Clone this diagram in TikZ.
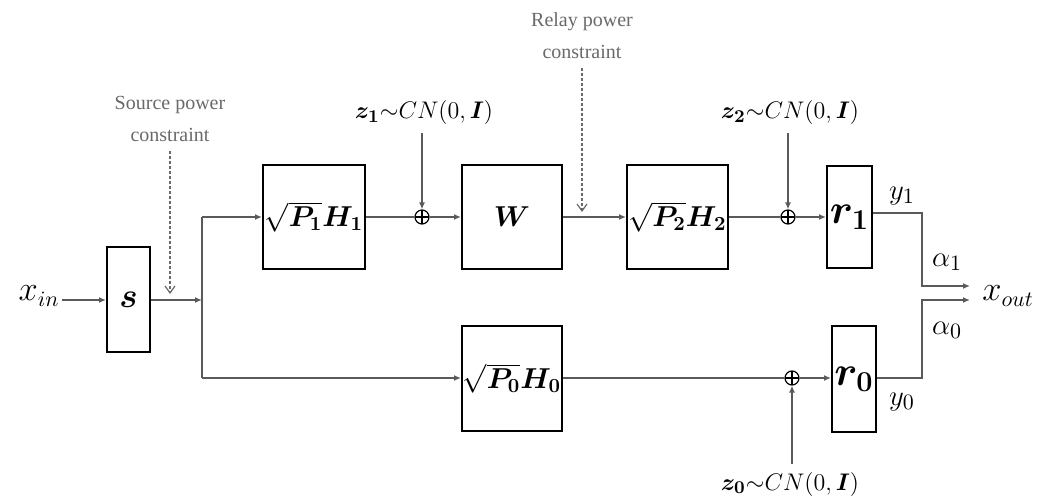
\documentclass[tikz,border=0pt]{standalone}
\usepackage{amsmath,bm}
\usepackage{fontspec}
\newfontfamily\lblfont{Liberation Serif}
\usetikzlibrary{arrows.meta}
\definecolor{txtgray}{RGB}{105,105,105}
\definecolor{linegray}{RGB}{90,90,90}
\tikzset{
  blk/.style={draw=black, line width=1pt, inner sep=0pt},
  arr/.style={draw=linegray, line width=0.7pt, -{Latex[length=3.5pt,width=3pt]}},
  ln/.style={draw=linegray, line width=0.7pt},
  dasharr/.style={draw=txtgray, line width=0.6pt, dash pattern=on 1.5pt off 1pt, -{Straight Barb[length=3.5pt,width=5pt]}},
  plus/.style={circle, draw=black, line width=0.6pt, inner sep=0pt, minimum size=7pt,
    path picture={\draw[line width=0.6pt] (path picture bounding box.north) -- (path picture bounding box.south)
      (path picture bounding box.west) -- (path picture bounding box.east);}},
  mlbl/.style={font=\fontsize{13}{15}\selectfont, inner sep=1pt},
  olbl/.style={font=\fontsize{15}{17}\selectfont, inner sep=1pt},
  glbl/.style={font=\lblfont\fontsize{10}{16}\selectfont, text=txtgray, align=center},
}
\begin{document}
\begin{tikzpicture}[x=0.5pt,y=-0.5pt]
\useasboundingbox (0,0) rectangle (1050,502);
% blocks
\node[blk, minimum width=21.5pt, minimum height=52.5pt] (S) at (128.5,300) {\fontsize{18}{20}\selectfont$\bm{s}$};
\node[blk, minimum width=51pt, minimum height=52pt] (H1) at (314,217) {\fontsize{14}{16}\selectfont$\sqrt{\bm{P_1}}\bm{H_1}$};
\node[blk, minimum width=50pt, minimum height=52pt] (W) at (512,217) {\fontsize{15}{17}\selectfont$\bm{W}$};
\node[blk, minimum width=50.5pt, minimum height=52pt] (H2) at (677.5,217) {\fontsize{14}{16}\selectfont$\sqrt{\bm{P_2}}\bm{H_2}$};
\node[blk, minimum width=22.5pt, minimum height=51pt] (r1) at (849.5,217) {\fontsize{22}{24}\selectfont$\bm{r_1}$};
\node[blk, minimum width=50pt, minimum height=52.5pt] (H0) at (512,378.5) {\fontsize{14}{16}\selectfont$\sqrt{\bm{P_0}}\bm{H_0}$};
\node[blk, minimum width=22pt, minimum height=53pt] (r0) at (854,379) {\fontsize{22}{24}\selectfont$\bm{r_0}$};
% adders
\node[plus] (p1) at (422,217) {};
\node[plus] (p2) at (788,217) {};
\node[plus] (p0) at (792,378) {};
% labels
\node[olbl, anchor=east] (xin) at (62,296) {\fontsize{16}{18}\selectfont$x_{in}$};
\node[mlbl] (z1) at (424,113) {$\bm{z_1}{\sim}CN(0,\bm{I})$};
\node[mlbl] (z2) at (790,113) {$\bm{z_2}{\sim}CN(0,\bm{I})$};
\node[mlbl] (z0) at (790,484) {$\bm{z_0}{\sim}CN(0,\bm{I})$};
\node[glbl] (src) at (170,119) {Source power\\constraint};
\node[glbl] (rly) at (582,36) {Relay power\\constraint};
\node[olbl] (y1) at (902,196) {$y_1$};
\node[olbl] (a1) at (947,262) {$\alpha_1$};
\node[olbl] (a0) at (947,330) {$\alpha_0$};
\node[olbl] (y0) at (902,402) {$y_0$};
\node[olbl, anchor=west] (xout) at (980,296) {\fontsize{16}{18}\selectfont$x_{out}$};
% coordinates
\coordinate (split) at (202,300);
\coordinate (top) at (202,217);
\coordinate (bot) at (202,378);
\coordinate (srcend) at (170,294);
\coordinate (rlyend) at (582,212);
\coordinate (c1) at (922,213);
\coordinate (c0) at (922,378);
\coordinate (out1) at (970,286);
\coordinate (out0) at (970,300);
% connectors
\draw[arr] (xin.east |- S.west) -- (S.west);
\draw[arr] (S.east) -- (split);
\draw[ln] (top) -- (bot);
\draw[arr] (top) -- (H1.west);
\draw[arr] (bot) -- (H0.west |- bot);
\draw[ln] (H1.east) -- (p1.west);
\draw[arr] (p1.east) -- (W.west);
\draw[arr] (p1 |- z1.south) ++(0,6) -- (p1.north);
\draw[arr] (W.east) -- (H2.west);
\draw[ln] (H2.east) -- (p2.west);
\draw[arr] (p2.east) -- (r1.west);
\draw[arr] (p2 |- z2.south) ++(0,6) -- (p2.north);
\draw[ln] (H0.east |- bot) -- (p0.west);
\draw[arr] (p0.east) -- (r0.west |- p0);
\draw[arr] (p0 |- z0.north) ++(0,-6) -- (p0.south);
\draw[dasharr] (src.south) ++(0,2) -- (srcend);
\draw[dasharr] (rly.south) ++(0,2) -- (rlyend);
\draw[arr] (r1.east |- c1) -- (c1) |- (out1);
\draw[arr] (r0.east |- c0) -- (c0) |- (out0);
\end{tikzpicture}
\end{document}
